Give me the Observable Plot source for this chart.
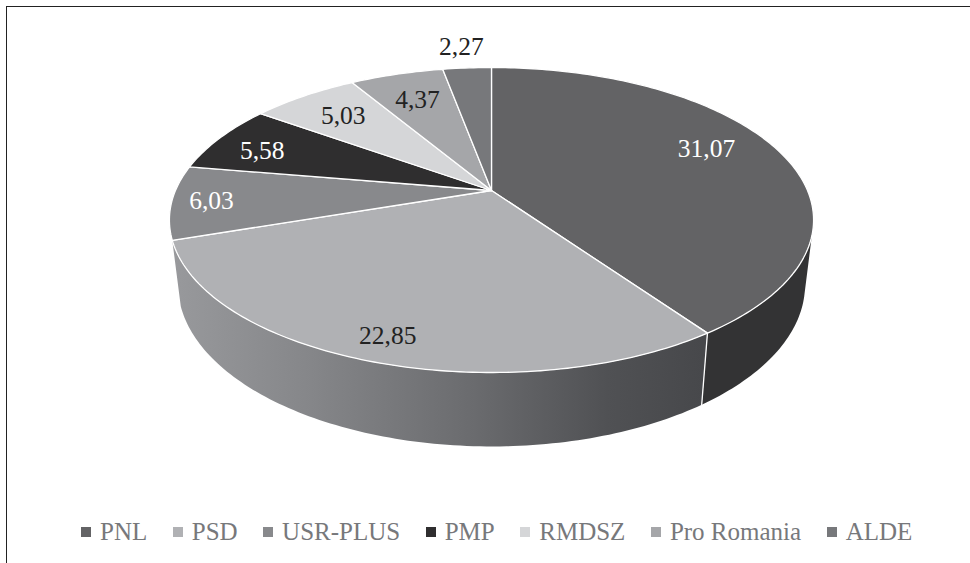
<!DOCTYPE html>
<html lang="ro">
<head>
<meta charset="utf-8">
<script src="https://cdn.jsdelivr.net/npm/d3@7"></script>
<script src="https://cdn.jsdelivr.net/npm/@observablehq/plot@0.6"></script>
<style>
  html, body { margin: 0; padding: 0; background: #fff; }
  body { width: 970px; height: 563px; overflow: hidden; position: relative; }
  #frame { position: absolute; left: 5.5px; top: 6px; right: -4px; bottom: -4px; border-left: 1.5px solid #222; border-top: 1.5px solid #222; }
  #chart { position: absolute; left: 0; top: 0; }
  #legend { position: absolute; left: 81px; top: 518px; white-space: nowrap; }
  #legend .leg-swatches { margin: 0 !important; min-height: 0 !important; display: flex; align-items: center; font-family: "Liberation Serif", serif !important; font-size: 25px !important; color: #77787b; }
  #legend .leg-swatch { margin-right: 25.5px !important; display: inline-flex; align-items: center; color: #77787b; }
  #legend .leg-swatch svg { margin-right: 9px !important; }
</style>
</head>
<body>
<div id="frame"></div>
<div id="chart"></div>
<div id="legend"></div>
<script>
const parties = ["PNL", "PSD", "USR-PLUS", "PMP", "RMDSZ", "Pro Romania", "ALDE"];
const shares = [31.07, 22.85, 6.03, 5.58, 5.03, 4.37, 2.27];
const sliceColors = ["#636365", "#b0b1b4", "#88898c", "#2f2e2f", "#d5d6d8", "#a5a6a9", "#77787b"];
const labelColors = ["#fff", "#222", "#fff", "#fff", "#222", "#222", "#222"];
const labelNudges = [[-1.5, -10], [-18, 24], [-41, 2], [-22, 0], [-3, -2], [0, 0], [-11, -48]];

const W = 970, H = 500;
const total = d3.sum(shares);
const rad = (deg) => deg * Math.PI / 180;

// Perspective view of the pie's flat top and of its floor
const top_ = {x0: 491, y0: 190, a: 316, b: 146.8, c: 0.1935};
const floor_ = {x0: 491, y0: 253, a: 307.6, b: 155.6, c: 0.1935};
function project(p, deg, r = 1) {
  const u = r * Math.sin(rad(deg)), v = -r * Math.cos(rad(deg)), d = 1 - p.c * v;
  return {x: p.x0 + p.a * u / d, y: p.y0 + p.b * v / d};
}
function arc(p, from, to) {
  const n = Math.max(2, Math.ceil(Math.abs(to - from)));
  return d3.range(n + 1).map((i) => project(p, from + (to - from) * i / n));
}

let acc = 0;
const slices = parties.map((party, i) => {
  const start = acc / total * 360;
  acc += shares[i];
  return {party, value: shares[i], start, end: acc / total * 360, i};
});

const topPoints = slices.flatMap((s) => {
  const hub = project(top_, 0, 0);
  return [hub, ...arc(top_, s.start, s.end), hub].map((q) => ({...q, party: s.party}));
});

const pnl = slices[0], psd = slices[1];
const darkWall = [...arc(top_, 107, pnl.end), ...arc(floor_, pnl.end, 104.2)];
const lightWall = [...arc(top_, pnl.end, psd.end), ...arc(floor_, psd.end, pnl.end)];
const seam = [project(top_, pnl.end), project(floor_, pnl.end)];

function gradient() {
  const defs = d3.create("svg:defs");
  const g = defs.append("linearGradient").attr("id", "wallGrad")
    .attr("gradientUnits", "userSpaceOnUse")
    .attr("x1", 172).attr("x2", 702).attr("y1", 0).attr("y2", 0);
  [[0, "#98999c"], [0.25, "#86878a"], [0.57, "#6a6b6e"], [0.82, "#505154"], [1, "#47484b"]]
    .forEach(([o, c]) => g.append("stop").attr("offset", o).attr("stop-color", c));
  return defs.node();
}

const chart = Plot.plot({
  width: W, height: H, margin: 0,
  style: {background: "transparent", overflow: "visible"},
  x: {domain: [0, W], range: [0, W], axis: null},
  y: {domain: [0, H], range: [0, H], axis: null},
  color: {type: "ordinal", domain: parties, range: sliceColors},
  marks: [
    gradient,
    Plot.line(darkWall, {x: "x", y: "y", fill: "#333334"}),
    Plot.line(lightWall, {x: "x", y: "y", fill: "url(#wallGrad)"}),
    Plot.line(seam, {x: "x", y: "y", stroke: "#fff", strokeWidth: 1.3}),
    Plot.line(topPoints, {x: "x", y: "y", z: "party", fill: "party", stroke: "#fff", strokeWidth: 1.3, strokeLinejoin: "round"}),
    ...slices.map((s) => {
      const at = project(top_, (s.start + s.end) / 2, 0.75);
      return Plot.text([{...at, label: s.value.toFixed(2).replace(".", ",")}], {
        x: "x", y: "y", text: "label",
        dx: labelNudges[s.i][0], dy: labelNudges[s.i][1],
        fill: labelColors[s.i],
        fontFamily: "Liberation Serif, serif", fontSize: 25.5, textAnchor: "middle", lineAnchor: "middle"
      });
    })
  ]
});
document.getElementById("chart").append(chart);

document.getElementById("legend").append(Plot.legend({
  color: {type: "ordinal", domain: parties, range: sliceColors},
  legend: "swatches", swatchSize: 10, className: "leg"
}));
</script>
</body>
</html>
